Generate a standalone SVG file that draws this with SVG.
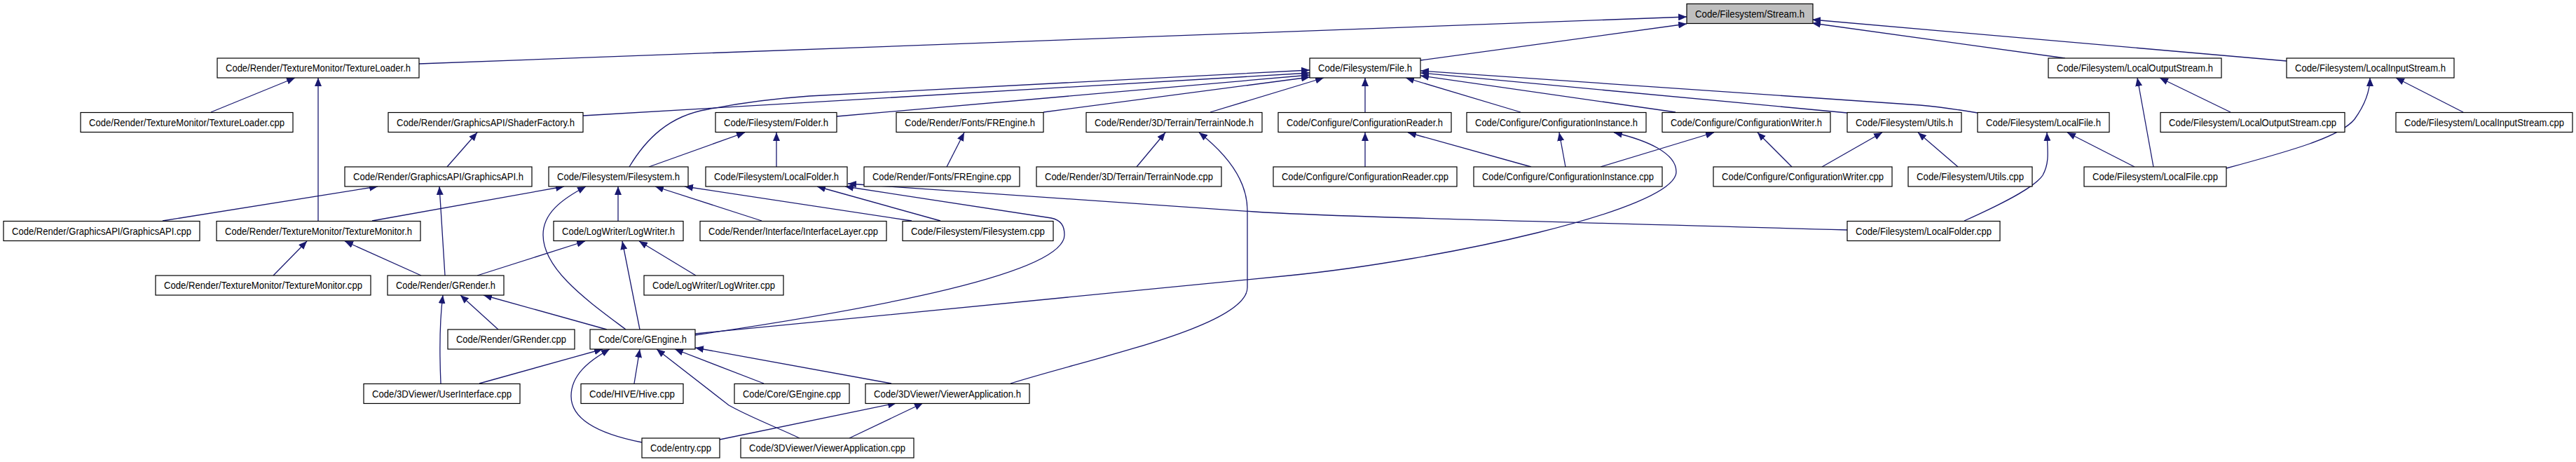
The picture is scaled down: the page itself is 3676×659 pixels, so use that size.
<svg xmlns="http://www.w3.org/2000/svg" width="3676" height="659" viewBox="0 0 3676 659">
<style>
.n rect{fill:#ffffff;stroke:#000000;stroke-width:1.2}
.n.g rect{fill:#bfbfbf}
.n text{font-family:"Liberation Sans",Arial,Helvetica,sans-serif;font-size:14px;fill:#000000;text-anchor:middle}
.e path{fill:none;stroke:#191970;stroke-width:1.3;marker-end:url(#a)}
</style>
<defs>
<marker id="a" markerUnits="userSpaceOnUse" markerWidth="12" markerHeight="10" viewBox="0 0 12 10" refX="12" refY="5" orient="auto"><path d="M0,0L12,5L0,10z" fill="#191970"/></marker>
</defs>
<rect x="0" y="0" width="3676" height="659" fill="#ffffff"/>
<g id="connectors" class="e">
<path d="M598,91 L2407,24"/>
<path d="M2027,86 L2407,34"/>
<path d="M2947,83 L2586,33"/>
<path d="M3263,87 L2586,28"/>
<path d="M832,165 L1869,104"/>
<path d="M898,238 C922,198 955,165 1010,156 C1060,146 1100,141 1155,137 L1869,100"/>
<path d="M1194,166 L1869,107"/>
<path d="M1489,160 L1869,110"/>
<path d="M1727,160 L1889,111"/>
<path d="M1948,160 L1948,111"/>
<path d="M2170,160 L2006,111"/>
<path d="M2391,160 L2027,108"/>
<path d="M2636,161 L2027,104"/>
<path d="M2822,161 Q2775,153 2740,150 L2027,101"/>
<path d="M926,238 L1063,189"/>
<path d="M1108,238 L1108,189"/>
<path d="M1351,238 L1376,189"/>
<path d="M1622,238 L1663,189"/>
<path d="M1442,547 C1560,510 1780,465 1780,410 L1780,300 C1780,255 1748,218 1711,189"/>
<path d="M1948,238 L1948,189"/>
<path d="M2185,238 L2009,189"/>
<path d="M2234,238 L2225,189"/>
<path d="M2284,238 L2446,189"/>
<path d="M2557,238 L2508,189"/>
<path d="M2600,238 L2686,189"/>
<path d="M2794,238 L2737,189"/>
<path d="M992,476 L1840,393 C2050,372 2392,300 2392,245 C2392,218 2350,200 2303,189"/>
<path d="M992,478 C1250,440 1519,390 1519,335 C1519,322 1514,314 1500,311 L1206,266"/>
<path d="M1342,315 L1166,266"/>
<path d="M2636,328 C2100,313 1900,309 1790,302 L1210,262"/>
<path d="M531,315 L805,266"/>
<path d="M893,470 C840,430 775,385 775,335 C775,305 800,285 836,266"/>
<path d="M882,315 L882,266"/>
<path d="M1087,315 L935,266"/>
<path d="M1301,315 L977,266"/>
<path d="M638,238 L681,189"/>
<path d="M301,160 L421,111"/>
<path d="M454,315 L454,111"/>
<path d="M232,315 L539,266"/>
<path d="M635,393 L627,266"/>
<path d="M390,393 L438,344"/>
<path d="M601,393 L492,344"/>
<path d="M681,393 L835,344"/>
<path d="M913,470 L888,344"/>
<path d="M993,393 L912,344"/>
<path d="M711,470 L657,421"/>
<path d="M866,470 L690,421"/>
<path d="M629,547 C627,500 627,460 632,421"/>
<path d="M684,547 L860,498"/>
<path d="M916,631 C860,620 815,600 815,565 C815,535 840,515 870,498"/>
<path d="M905,547 L913,498"/>
<path d="M1141,625 C1110,610 1070,595 1040,578 L937,498"/>
<path d="M1090,547 L963,498"/>
<path d="M1272,547 L992,496"/>
<path d="M1027,627 L1279,575"/>
<path d="M1212,625 L1317,575"/>
<path d="M3046,238 L2950,189"/>
<path d="M2803,315 C2870,285 2905,265 2915,250 C2925,232 2922,215 2921,189"/>
<path d="M3073,238 L3050,111"/>
<path d="M3183,160 L3082,111"/>
<path d="M3177,240 C3270,215 3340,195 3360,170 C3378,145 3382,125 3382,111"/>
<path d="M3515,160 L3419,111"/>
</g>
<g id="stream_h" class="n g"><rect x="2407" y="5.5" width="180" height="28"/><text x="2497" y="24.5" textLength="156" lengthAdjust="spacingAndGlyphs">Code/Filesystem/Stream.h</text></g>
<g id="textureloader_h" class="n"><rect x="310" y="83" width="288" height="28"/><text x="454" y="102" textLength="264" lengthAdjust="spacingAndGlyphs">Code/Render/TextureMonitor/TextureLoader.h</text></g>
<g id="file_h" class="n"><rect x="1869" y="83" width="158" height="28"/><text x="1948" y="102" textLength="134" lengthAdjust="spacingAndGlyphs">Code/Filesystem/File.h</text></g>
<g id="localoutputstream_h" class="n"><rect x="2923" y="83" width="247" height="28"/><text x="3046.5" y="102" textLength="223" lengthAdjust="spacingAndGlyphs">Code/Filesystem/LocalOutputStream.h</text></g>
<g id="localinputstream_h" class="n"><rect x="3263" y="83" width="239" height="28"/><text x="3382.5" y="102" textLength="215" lengthAdjust="spacingAndGlyphs">Code/Filesystem/LocalInputStream.h</text></g>
<g id="textureloader_cpp" class="n"><rect x="115" y="160.5" width="303" height="28"/><text x="266.5" y="179.5" textLength="279" lengthAdjust="spacingAndGlyphs">Code/Render/TextureMonitor/TextureLoader.cpp</text></g>
<g id="shaderfactory_h" class="n"><rect x="554" y="160.5" width="278" height="28"/><text x="693" y="179.5" textLength="254" lengthAdjust="spacingAndGlyphs">Code/Render/GraphicsAPI/ShaderFactory.h</text></g>
<g id="folder_h" class="n"><rect x="1021" y="160.5" width="173" height="28"/><text x="1107.5" y="179.5" textLength="149" lengthAdjust="spacingAndGlyphs">Code/Filesystem/Folder.h</text></g>
<g id="frengine_h" class="n"><rect x="1279" y="160.5" width="210" height="28"/><text x="1384" y="179.5" textLength="186" lengthAdjust="spacingAndGlyphs">Code/Render/Fonts/FREngine.h</text></g>
<g id="terrainnode_h" class="n"><rect x="1550" y="160.5" width="251" height="28"/><text x="1675.5" y="179.5" textLength="227" lengthAdjust="spacingAndGlyphs">Code/Render/3D/Terrain/TerrainNode.h</text></g>
<g id="configurationreader_h" class="n"><rect x="1824" y="160.5" width="247" height="28"/><text x="1947.5" y="179.5" textLength="223" lengthAdjust="spacingAndGlyphs">Code/Configure/ConfigurationReader.h</text></g>
<g id="configurationinstance_h" class="n"><rect x="2093" y="160.5" width="256" height="28"/><text x="2221" y="179.5" textLength="232" lengthAdjust="spacingAndGlyphs">Code/Configure/ConfigurationInstance.h</text></g>
<g id="configurationwriter_h" class="n"><rect x="2372" y="160.5" width="240" height="28"/><text x="2492" y="179.5" textLength="216" lengthAdjust="spacingAndGlyphs">Code/Configure/ConfigurationWriter.h</text></g>
<g id="utils_h" class="n"><rect x="2636" y="160.5" width="163" height="28"/><text x="2717.5" y="179.5" textLength="139" lengthAdjust="spacingAndGlyphs">Code/Filesystem/Utils.h</text></g>
<g id="localfile_h" class="n"><rect x="2822" y="160.5" width="188" height="28"/><text x="2916" y="179.5" textLength="164" lengthAdjust="spacingAndGlyphs">Code/Filesystem/LocalFile.h</text></g>
<g id="localoutputstream_cpp" class="n"><rect x="3083" y="160.5" width="263" height="28"/><text x="3214.5" y="179.5" textLength="239" lengthAdjust="spacingAndGlyphs">Code/Filesystem/LocalOutputStream.cpp</text></g>
<g id="localinputstream_cpp" class="n"><rect x="3419" y="160.5" width="252" height="28"/><text x="3545" y="179.5" textLength="228" lengthAdjust="spacingAndGlyphs">Code/Filesystem/LocalInputStream.cpp</text></g>
<g id="graphicsapi_h" class="n"><rect x="492" y="238" width="267" height="28"/><text x="625.5" y="257" textLength="243" lengthAdjust="spacingAndGlyphs">Code/Render/GraphicsAPI/GraphicsAPI.h</text></g>
<g id="filesystem_h" class="n"><rect x="783" y="238" width="199" height="28"/><text x="882.5" y="257" textLength="175" lengthAdjust="spacingAndGlyphs">Code/Filesystem/Filesystem.h</text></g>
<g id="localfolder_h" class="n"><rect x="1007" y="238" width="202" height="28"/><text x="1108" y="257" textLength="178" lengthAdjust="spacingAndGlyphs">Code/Filesystem/LocalFolder.h</text></g>
<g id="frengine_cpp" class="n"><rect x="1233" y="238" width="222" height="28"/><text x="1344" y="257" textLength="198" lengthAdjust="spacingAndGlyphs">Code/Render/Fonts/FREngine.cpp</text></g>
<g id="terrainnode_cpp" class="n"><rect x="1479" y="238" width="264" height="28"/><text x="1611" y="257" textLength="240" lengthAdjust="spacingAndGlyphs">Code/Render/3D/Terrain/TerrainNode.cpp</text></g>
<g id="configurationreader_cpp" class="n"><rect x="1817" y="238" width="262" height="28"/><text x="1948" y="257" textLength="238" lengthAdjust="spacingAndGlyphs">Code/Configure/ConfigurationReader.cpp</text></g>
<g id="configurationinstance_cpp" class="n"><rect x="2103" y="238" width="269" height="28"/><text x="2237.5" y="257" textLength="245" lengthAdjust="spacingAndGlyphs">Code/Configure/ConfigurationInstance.cpp</text></g>
<g id="configurationwriter_cpp" class="n"><rect x="2445" y="238" width="255" height="28"/><text x="2572.5" y="257" textLength="231" lengthAdjust="spacingAndGlyphs">Code/Configure/ConfigurationWriter.cpp</text></g>
<g id="utils_cpp" class="n"><rect x="2723" y="238" width="177" height="28"/><text x="2811.5" y="257" textLength="153" lengthAdjust="spacingAndGlyphs">Code/Filesystem/Utils.cpp</text></g>
<g id="localfile_cpp" class="n"><rect x="2974" y="238" width="203" height="28"/><text x="3075.5" y="257" textLength="179" lengthAdjust="spacingAndGlyphs">Code/Filesystem/LocalFile.cpp</text></g>
<g id="graphicsapi_cpp" class="n"><rect x="5" y="315.5" width="280" height="28"/><text x="145" y="334.5" textLength="256" lengthAdjust="spacingAndGlyphs">Code/Render/GraphicsAPI/GraphicsAPI.cpp</text></g>
<g id="texturemonitor_h" class="n"><rect x="309" y="315.5" width="291" height="28"/><text x="454.5" y="334.5" textLength="267" lengthAdjust="spacingAndGlyphs">Code/Render/TextureMonitor/TextureMonitor.h</text></g>
<g id="logwriter_h" class="n"><rect x="790" y="315.5" width="185" height="28"/><text x="882.5" y="334.5" textLength="161" lengthAdjust="spacingAndGlyphs">Code/LogWriter/LogWriter.h</text></g>
<g id="interfacelayer_cpp" class="n"><rect x="999" y="315.5" width="266" height="28"/><text x="1132" y="334.5" textLength="242" lengthAdjust="spacingAndGlyphs">Code/Render/Interface/InterfaceLayer.cpp</text></g>
<g id="filesystem_cpp" class="n"><rect x="1288" y="315.5" width="215" height="28"/><text x="1395.5" y="334.5" textLength="191" lengthAdjust="spacingAndGlyphs">Code/Filesystem/Filesystem.cpp</text></g>
<g id="localfolder_cpp" class="n"><rect x="2636" y="315.5" width="218" height="28"/><text x="2745" y="334.5" textLength="194" lengthAdjust="spacingAndGlyphs">Code/Filesystem/LocalFolder.cpp</text></g>
<g id="texturemonitor_cpp" class="n"><rect x="222" y="393" width="307" height="28"/><text x="375.5" y="412" textLength="283" lengthAdjust="spacingAndGlyphs">Code/Render/TextureMonitor/TextureMonitor.cpp</text></g>
<g id="grender_h" class="n"><rect x="553" y="393" width="166" height="28"/><text x="636" y="412" textLength="142" lengthAdjust="spacingAndGlyphs">Code/Render/GRender.h</text></g>
<g id="logwriter_cpp" class="n"><rect x="919" y="393" width="199" height="28"/><text x="1018.5" y="412" textLength="175" lengthAdjust="spacingAndGlyphs">Code/LogWriter/LogWriter.cpp</text></g>
<g id="grender_cpp" class="n"><rect x="639" y="470" width="181" height="28"/><text x="729.5" y="489" textLength="157" lengthAdjust="spacingAndGlyphs">Code/Render/GRender.cpp</text></g>
<g id="gengine_h" class="n"><rect x="842" y="470" width="150" height="28"/><text x="917" y="489" textLength="126" lengthAdjust="spacingAndGlyphs">Code/Core/GEngine.h</text></g>
<g id="userinterface_cpp" class="n"><rect x="519" y="547.5" width="223" height="28"/><text x="630.5" y="566.5" textLength="199" lengthAdjust="spacingAndGlyphs">Code/3DViewer/UserInterface.cpp</text></g>
<g id="hive_cpp" class="n"><rect x="829" y="547.5" width="146" height="28"/><text x="902" y="566.5" textLength="122" lengthAdjust="spacingAndGlyphs">Code/HIVE/Hive.cpp</text></g>
<g id="gengine_cpp" class="n"><rect x="1048" y="547.5" width="164" height="28"/><text x="1130" y="566.5" textLength="140" lengthAdjust="spacingAndGlyphs">Code/Core/GEngine.cpp</text></g>
<g id="viewerapplication_h" class="n"><rect x="1235" y="547.5" width="234" height="28"/><text x="1352" y="566.5" textLength="210" lengthAdjust="spacingAndGlyphs">Code/3DViewer/ViewerApplication.h</text></g>
<g id="entry_cpp" class="n"><rect x="916" y="625" width="111" height="28"/><text x="971.5" y="644" textLength="87" lengthAdjust="spacingAndGlyphs">Code/entry.cpp</text></g>
<g id="viewerapplication_cpp" class="n"><rect x="1057" y="625" width="247" height="28"/><text x="1180.5" y="644" textLength="223" lengthAdjust="spacingAndGlyphs">Code/3DViewer/ViewerApplication.cpp</text></g>
</svg>
